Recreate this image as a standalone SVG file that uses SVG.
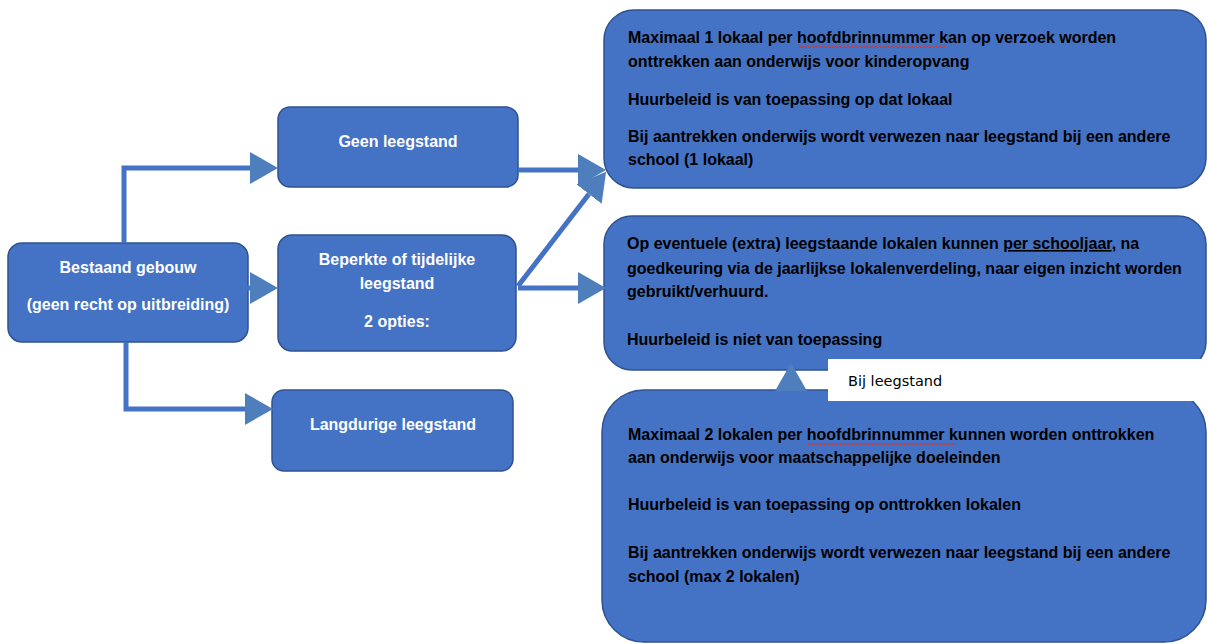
<svg xmlns="http://www.w3.org/2000/svg" width="1208" height="644" viewBox="0 0 1208 644">
<style>
.box{fill:#4472C4;stroke:#2F528F;stroke-width:1.5}
.lbl{font-family:"Liberation Sans",Arial,sans-serif;font-weight:bold;font-size:16px;fill:#ffffff;text-anchor:middle}
.txt{font-family:"Liberation Sans",Arial,sans-serif;font-weight:bold;font-size:16px;fill:#000000}
.con{fill:none;stroke:#4472C4;stroke-width:5}
.wavy{fill:none;stroke:#E0302A;stroke-width:1}
</style>
<defs>
<marker id="ah" markerUnits="userSpaceOnUse" markerWidth="28" markerHeight="32" refX="0" refY="16" orient="auto" viewBox="0 0 28 32">
<path d="M0,0 L28,16 L0,32 Z" fill="#4E7FBC"/>
</marker>
</defs>
<rect width="1208" height="644" fill="#ffffff"/>

<g id="node-bestaand">
<rect class="box" x="8" y="243" width="240" height="99" rx="14"/>
<text class="lbl" x="128" y="273">Bestaand gebouw</text>
<text class="lbl" x="128" y="310">(geen recht op uitbreiding)</text>
</g>
<g id="node-geen">
<rect class="box" x="278" y="107" width="240" height="80" rx="12"/>
<text class="lbl" x="398" y="147">Geen leegstand</text>
</g>
<g id="node-beperkte">
<rect class="box" x="278" y="235" width="238" height="116" rx="14"/>
<text class="lbl" x="397" y="265">Beperkte of tijdelijke</text>
<text class="lbl" x="397" y="289">leegstand</text>
<text class="lbl" x="397" y="327">2 opties:</text>
</g>
<g id="node-langdurig">
<rect class="box" x="272" y="390" width="241" height="81" rx="12"/>
<text class="lbl" x="393" y="430">Langdurige leegstand</text>
</g>
<g id="node-kinderopvang">
<rect class="box" x="604" y="10" width="602" height="178" rx="30"/>
<text class="txt" x="628" y="43">Maximaal 1 lokaal per hoofdbrinnummer kan op verzoek worden</text>
<text class="txt" x="628" y="67">onttrekken aan onderwijs voor kinderopvang</text>
<text class="txt" x="628" y="105">Huurbeleid is van toepassing op dat lokaal</text>
<text class="txt" x="628" y="142">Bij aantrekken onderwijs wordt verwezen naar leegstand bij een andere</text>
<text class="txt" x="628" y="165">school (1 lokaal)</text>
<path class="wavy" d="M798,48 l2,-2 l2,2 l2,-2 l2,2 l2,-2 l2,2 l2,-2 l2,2 l2,-2 l2,2 l2,-2 l2,2 l2,-2 l2,2 l2,-2 l2,2 l2,-2 l2,2 l2,-2 l2,2 l2,-2 l2,2 l2,-2 l2,2 l2,-2 l2,2 l2,-2 l2,2 l2,-2 l2,2 l2,-2 l2,2 l2,-2 l2,2 l2,-2 l2,2 l2,-2 l2,2 l2,-2 l2,2 l2,-2 l2,2 l2,-2 l2,2 l2,-2 l2,2 l2,-2 l2,2 l2,-2 l2,2 l2,-2 l2,2 l2,-2 l2,2 l2,-2 l2,2 l2,-2 l2,2 l2,-2 l2,2 l2,-2 l2,2 l2,-2 l2,2 l2,-2 l2,2 l2,-2 l2,2 l2,-2 l2,2 l2,-2 l2,2 l2,-2 l2,2"/>
</g>
<g id="node-eigen">
<rect class="box" x="604" y="216" width="602" height="154" rx="28"/>
<text class="txt" x="627" y="249">Op eventuele (extra) leegstaande lokalen kunnen <tspan text-decoration="underline">per schooljaar</tspan>, na</text>
<text class="txt" x="627" y="274">goedkeuring via de jaarlijkse lokalenverdeling, naar eigen inzicht worden</text>
<text class="txt" x="627" y="297">gebruikt/verhuurd.</text>
<text class="txt" x="627" y="345">Huurbeleid is niet van toepassing</text>
</g>
<g id="node-maatschappelijk">
<rect class="box" x="602" y="390" width="604" height="252" rx="42"/>
<text class="txt" x="628" y="440">Maximaal 2 lokalen per hoofdbrinnummer kunnen worden onttrokken</text>
<text class="txt" x="628" y="463">aan onderwijs voor maatschappelijke doeleinden</text>
<text class="txt" x="628" y="510">Huurbeleid is van toepassing op onttrokken lokalen</text>
<text class="txt" x="628" y="558">Bij aantrekken onderwijs wordt verwezen naar leegstand bij een andere</text>
<text class="txt" x="628" y="582">school (max 2 lokalen)</text>
<path class="wavy" d="M808,445 l2,-2 l2,2 l2,-2 l2,2 l2,-2 l2,2 l2,-2 l2,2 l2,-2 l2,2 l2,-2 l2,2 l2,-2 l2,2 l2,-2 l2,2 l2,-2 l2,2 l2,-2 l2,2 l2,-2 l2,2 l2,-2 l2,2 l2,-2 l2,2 l2,-2 l2,2 l2,-2 l2,2 l2,-2 l2,2 l2,-2 l2,2 l2,-2 l2,2 l2,-2 l2,2 l2,-2 l2,2 l2,-2 l2,2 l2,-2 l2,2 l2,-2 l2,2 l2,-2 l2,2 l2,-2 l2,2 l2,-2 l2,2 l2,-2 l2,2 l2,-2 l2,2 l2,-2 l2,2 l2,-2 l2,2 l2,-2 l2,2 l2,-2 l2,2 l2,-2 l2,2 l2,-2 l2,2 l2,-2 l2,2 l2,-2 l2,2 l2,-2 l2,2"/>
</g>
<g id="note-bij-leegstand">
<rect x="828" y="359" width="380" height="42" fill="#ffffff"/>
<text x="848" y="386" font-family="'DejaVu Sans',sans-serif" font-size="14.5" fill="#000000">Bij leegstand</text>
</g>

<g id="connectors">
<path class="con" d="M124,243 V168 H250" marker-end="url(#ah)"/>
<path class="con" d="M246,288 H250" marker-end="url(#ah)"/>
<path class="con" d="M126,342 V409 H245" marker-end="url(#ah)"/>
<path class="con" d="M518,170 H578" marker-end="url(#ah)"/>
<path class="con" d="M518,286 L589,194" marker-end="url(#ah)"/>
<path class="con" d="M518,288 H578" marker-end="url(#ah)"/>
<path class="con" d="M791,394 V391" marker-end="url(#ah)"/>
</g>
</svg>
